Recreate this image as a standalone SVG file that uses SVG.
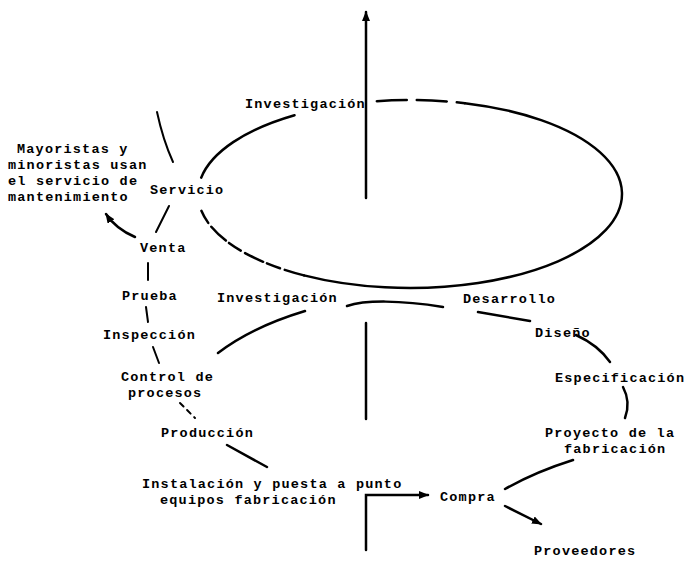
<svg xmlns="http://www.w3.org/2000/svg" width="686" height="561" viewBox="0 0 686 561">
<style>
text{font-family:"Liberation Mono","DejaVu Sans Mono",monospace;font-weight:bold;font-size:13.5px;letter-spacing:1.2px;fill:#000}
.c{fill:none;stroke:#000;stroke-width:2.5;stroke-linecap:round}
.t{fill:none;stroke:#000;stroke-width:2;stroke-linecap:round}
</style>
<defs>
<marker id="ah" markerWidth="10" markerHeight="8" refX="9" refY="4" orient="auto" markerUnits="userSpaceOnUse">
<path d="M0,0 L10,4 L0,8 Z" fill="#000"/>
</marker>
</defs>
<rect width="686" height="561" fill="#fff"/>
<g id="connectors">
<path class="c" d="M366 198 L366 12" marker-end="url(#ah)"/>
<path class="c" d="M366 323 L366 419"/>
<path class="c" d="M366 550 L366 495 L428 495" marker-end="url(#ah)"/>
<path class="c" stroke-dasharray="30 10" d="M376.8 101.2 A212 94 0 0 1 464.9 103.2"/>
<path class="c" d="M464.9 103.2 A212 94 0 1 1 304 275.4"/>
<path class="c" stroke-dasharray="20 5 14 4" d="M304 275.4 A212 94 0 0 1 201.2 210.3"/>
<path class="c" d="M201.2 177.7 A212 94 0 0 1 294.5 115.2"/>
<path class="t" d="M157 112 Q163 140 173 162"/>
<path class="t" d="M169 206 L156 232"/>
<path class="c" d="M135 237 Q116 229 106 214" marker-end="url(#ah)"/>
<path class="t" d="M148 263 L148 280"/>
<path class="t" d="M146 307 L148 322"/>
<path class="t" d="M153 347 L159 363"/>
<path class="t" stroke-width="1.5" stroke-dasharray="5 5" d="M180 403 L195 418"/>
<path class="c" d="M227 445 L267 467"/>
<path class="c" d="M305 311 Q252 327 218 353"/>
<path class="c" d="M347 306 C365 300 400 300 443 307"/>
<path class="c" d="M478 312 L530 321"/>
<path class="c" d="M576 335 Q598 345 610 362"/>
<path class="c" d="M623 387 Q631 402 625 418"/>
<path class="c" d="M573 460 Q535 472 505 489"/>
<path class="c" d="M505 506 L541 524" marker-end="url(#ah)"/>
</g>
<g id="investigacion-top"><text x="245" y="108">Investigación</text></g>
<g id="mayoristas">
<text x="17" y="153">Mayoristas y</text>
<text x="8" y="169">minoristas usan</text>
<text x="8" y="185">el servicio de</text>
<text x="8" y="201">mantenimiento</text>
</g>
<g id="servicio"><text x="150" y="194">Servicio</text></g>
<g id="venta"><text x="140" y="252">Venta</text></g>
<g id="prueba"><text x="122" y="300">Prueba</text></g>
<g id="investigacion-bottom"><text x="217" y="302">Investigación</text></g>
<g id="desarrollo"><text x="463" y="303">Desarrollo</text></g>
<g id="inspeccion"><text x="103" y="339">Inspección</text></g>
<g id="diseno"><text x="535" y="337">Diseño</text></g>
<g id="control">
<text x="121" y="381">Control de</text>
<text x="128" y="397">procesos</text>
</g>
<g id="especificacion"><text x="555" y="382">Especificación</text></g>
<g id="produccion"><text x="161" y="437">Producción</text></g>
<g id="proyecto">
<text x="545" y="437">Proyecto de la</text>
<text x="564" y="453">fabricación</text>
</g>
<g id="instalacion">
<text x="142" y="488">Instalación y puesta a punto</text>
<text x="160" y="504">equipos fabricación</text>
</g>
<g id="compra"><text x="440" y="501">Compra</text></g>
<g id="proveedores"><text x="534" y="555">Proveedores</text></g>
</svg>
